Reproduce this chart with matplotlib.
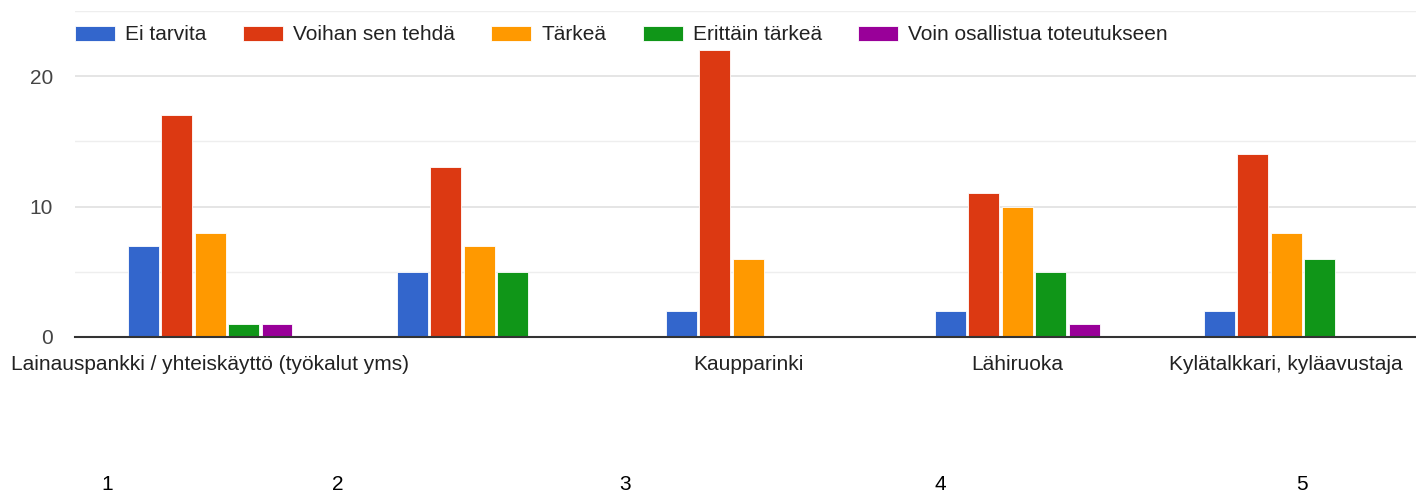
import matplotlib
matplotlib.use("Agg")
import matplotlib.pyplot as plt
import numpy as np

plt.rcParams['font.family'] = ['Liberation Sans', 'DejaVu Sans']

categories = ["Lainauspankki / yhteiskäyttö (työkalut yms)", "", "Kaupparinki", "Lähiruoka", "Kylätalkkari, kyläavustaja"]
series_names = ["Ei tarvita", "Voihan sen tehdä", "Tärkeä", "Erittäin tärkeä", "Voin osallistua toteutukseen"]
ei_tarvita = [7, 5, 2, 2, 2]
voihan = [17, 13, 22, 11, 14]
tarkea = [8, 7, 6, 10, 8]
erittain = [1, 5, 0, 5, 6]
voin = [1, 0, 0, 1, 0]
series_values = [ei_tarvita, voihan, tarkea, erittain, voin]
colors = ["#3366cc", "#dc3912", "#ff9900", "#109618", "#990099"]
bottom_numbers = ["1", "2", "3", "4", "5"]

W, H = 1416, 493
FS = 15
fig = plt.figure(figsize=(W / 100, H / 100), dpi=100)
ax = fig.add_axes([75 / W, (H - 337) / H, (W - 75) / W, (337 - 10.75) / H])

x = np.arange(len(categories))
pitch = 0.1245
bw = 0.115
handles = []
for j, (name, vals, c) in enumerate(zip(series_names, series_values, colors)):
    b = ax.bar(x + (j - 2) * pitch, vals, width=bw, color=c, label=name,
               edgecolor='white', linewidth=0.6, zorder=3)
    handles.append(b)

ax.set_xlim(-0.502, 4.483)
ax.set_ylim(0, 25)
ax.set_yticks([0, 10, 20])
ax.set_yticks([5, 15, 25], minor=True)
ax.grid(axis='y', which='major', color='#e0e0e0', linewidth=1.2, zorder=0)
ax.grid(axis='y', which='minor', color='#eeeeee', linewidth=1.0, zorder=0)
ax.set_xticks(x)
ax.set_xticklabels(categories, fontsize=FS, color='#222222')
ax.tick_params(axis='x', length=0, pad=13)
ax.tick_params(axis='y', which='both', length=0, pad=16, labelsize=FS, labelcolor='#444444')
for s in ['top', 'right', 'left']:
    ax.spines[s].set_visible(False)
ax.spines['bottom'].set_color('#333333')
ax.spines['bottom'].set_linewidth(1.5)
ax.spines['bottom'].set_zorder(4)

leg = fig.legend(handles=handles, labels=series_names, loc='center left',
                 bbox_to_anchor=(75 / W, 1 - 35 / H), ncol=5, frameon=False,
                 fontsize=FS, handlelength=1.92, handleheight=0.72,
                 handletextpad=0.48, columnspacing=1.75, borderaxespad=0, borderpad=0)
for t in leg.get_texts():
    t.set_color('#222222')

num_x = [107, 338, 625, 940, 1302]
for px, lab in zip(num_x, bottom_numbers):
    fig.text(px / W, 1 - 485 / H, lab, ha='center', va='center', fontsize=FS, color='#000000')

fig.savefig("out.png", dpi=100)
